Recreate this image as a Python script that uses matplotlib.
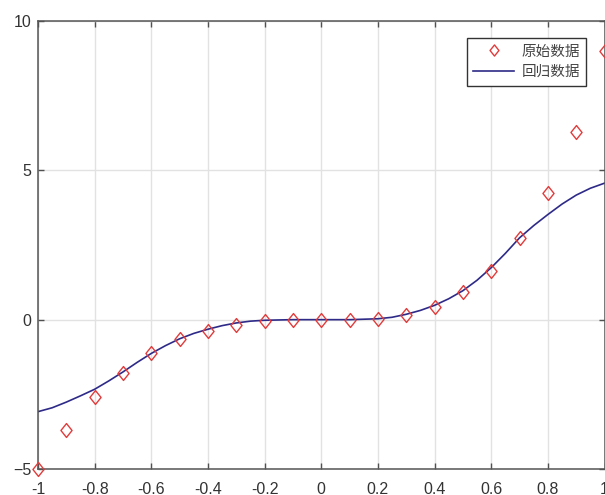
import numpy as np
import matplotlib
matplotlib.use('Agg')
import matplotlib.pyplot as plt
from matplotlib.path import Path

# raw samples
x_raw = [-1.0, -0.9, -0.8, -0.7, -0.6, -0.5, -0.4, -0.3, -0.2, -0.1, 0.0,
         0.1, 0.2, 0.3, 0.4, 0.5, 0.6, 0.7, 0.8, 0.9, 1.0]
y_raw = [-5.0, -3.70, -2.58, -1.77, -1.13, -0.66, -0.37, -0.18, -0.05, 0.0, 0.0,
         0.0, 0.02, 0.15, 0.43, 0.91, 1.63, 2.75, 4.23, 6.29, 9.0]

# fitted curve
x_fit = [-1.0, -0.95, -0.9, -0.85, -0.8, -0.75, -0.7, -0.65, -0.6, -0.55, -0.5,
         -0.45, -0.4, -0.35, -0.3, -0.25, -0.2, -0.1, 0.0, 0.1, 0.2, 0.25, 0.3,
         0.35, 0.4, 0.45, 0.5, 0.55, 0.6, 0.65, 0.7, 0.75, 0.8, 0.85, 0.9, 0.95, 1.0]
y_fit = [-3.08, -2.95, -2.76, -2.55, -2.33, -2.05, -1.75, -1.43, -1.13, -0.87, -0.64,
         -0.46, -0.32, -0.20, -0.11, -0.05, -0.02, 0.0, 0.0, 0.0, 0.03, 0.08, 0.18,
         0.31, 0.48, 0.70, 0.97, 1.32, 1.74, 2.22, 2.74, 3.15, 3.52, 3.87, 4.17, 4.40, 4.57]

labels = ['原始数据', '回归数据']
x_ticks = [-1, -0.8, -0.6, -0.4, -0.2, 0, 0.2, 0.4, 0.6, 0.8, 1]
x_ticklabels = ['-1', '-0.8', '-0.6', '-0.4', '-0.2', '0', '0.2', '0.4', '0.6', '0.8', '1']
y_ticks = [-5, 0, 5, 10]

plt.rcParams['font.family'] = ['Liberation Sans', 'Noto Sans CJK SC', 'DejaVu Sans']

# slightly tall diamond, like matlab's 'd'
diamond = Path([(0, 1), (0.8, 0), (0, -1), (-0.8, 0), (0, 1)],
               [Path.MOVETO, Path.LINETO, Path.LINETO, Path.LINETO, Path.CLOSEPOLY])

fig = plt.figure(figsize=(6.05, 4.95), dpi=100)
ax = fig.add_axes([38 / 605, 26 / 495, 566.5 / 605, 448 / 495])

ax.plot(x_raw, y_raw, linestyle='none', marker=diamond, markersize=10,
        markerfacecolor='none', markeredgecolor='#e23b3b', markeredgewidth=1.0,
        label=labels[0], clip_on=False, zorder=3)
ax.plot(x_fit, y_fit, color='#2e2a88', lw=1.2, label=labels[1], zorder=2)

ax.set_xlim(-1, 1)
ax.set_ylim(-5, 10)
ax.set_xticks(x_ticks)
ax.set_xticklabels(x_ticklabels)
ax.set_yticks(y_ticks)
ax.grid(True, color='#e2e2e2', lw=1.0)
ax.set_axisbelow(True)

ax.tick_params(direction='in', length=4, width=1, colors='#505050',
               labelcolor='#333333', labelsize=11.5, top=True, right=True)
ax.tick_params(axis='x', pad=9)
ax.tick_params(axis='y', pad=5)
for s in ax.spines.values():
    s.set_color('#555555')
    s.set_linewidth(1.1)

leg = ax.legend(loc='upper right', bbox_to_anchor=(0.968, 0.962), borderaxespad=0,
                prop={'family': ['Noto Sans CJK SC'], 'size': 10.5},
                handlelength=2.8, handletextpad=0.5, borderpad=0.45,
                labelspacing=0.45, fancybox=False, framealpha=1,
                edgecolor='#333333', labelcolor='#444444', markerscale=0.8)
leg.get_frame().set_linewidth(1.0)

fig.savefig('out.png', dpi=100)
